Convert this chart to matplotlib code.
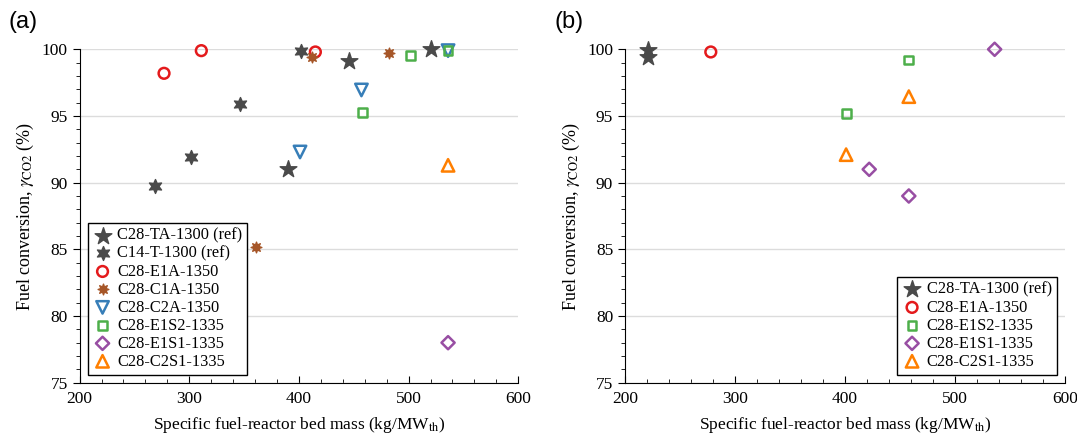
import numpy as np
import matplotlib
matplotlib.use("Agg")
import matplotlib.pyplot as plt

plt.rcParams['font.family'] = ['Liberation Serif', 'DejaVu Serif']
plt.rcParams['mathtext.fontset'] = 'stix'

# ---- panel (a) data ----
a_ta_x = [520, 446, 390]
a_ta_y = [100.0, 99.1, 91.0]
a_c14_x = [402, 346, 302, 269]
a_c14_y = [99.9, 95.9, 91.95, 89.75]
a_e1a_x = [311, 277, 415]
a_e1a_y = [99.9, 98.2, 99.8]
a_c1a_x = [412, 482, 361]
a_c1a_y = [99.4, 99.75, 85.2]
a_c2a_x = [536, 457, 401]
a_c2a_y = [99.9, 96.95, 92.3]
a_e1s2_x = [502, 458, 536]
a_e1s2_y = [99.55, 95.25, 99.9]
a_e1s1_x = [536]
a_e1s1_y = [78.0]
a_c2s1_x = [536]
a_c2s1_y = [91.3]

# ---- panel (b) data ----
b_ta_x = [221, 221]
b_ta_y = [99.95, 99.4]
b_e1a_x = [278]
b_e1a_y = [99.8]
b_e1s2_x = [458, 401]
b_e1s2_y = [99.2, 95.2]
b_e1s1_x = [536, 422, 458]
b_e1s1_y = [100.0, 91.0, 89.0]
b_c2s1_x = [458, 401]
b_c2s1_y = [96.45, 92.1]

GRAY = '#4a4a4a'
RED = '#e41a1c'
BROWN = '#a65628'
BLUE = '#377eb8'
GREEN = '#4daf4a'
PURPLE = '#984ea3'
ORANGE = '#ff7f00'

styles = {
    'C28-TA-1300 (ref)': dict(marker='*', s=160, color=GRAY),
    'C14-T-1300 (ref)': dict(marker=(6, 1, 0), s=100, color=GRAY),
    'C28-E1A-1350': dict(marker='o', s=60, facecolors='none', edgecolors=RED, linewidths=1.8),
    'C28-C1A-1350': dict(marker=(8, 1, 0), s=60, color=BROWN),
    'C28-C2A-1350': dict(marker='v', s=80, facecolors='none', edgecolors=BLUE, linewidths=1.8),
    'C28-E1S2-1335': dict(marker='s', s=40, facecolors='none', edgecolors=GREEN, linewidths=1.8),
    'C28-E1S1-1335': dict(marker='D', s=45, facecolors='none', edgecolors=PURPLE, linewidths=1.8),
    'C28-C2S1-1335': dict(marker='^', s=80, facecolors='none', edgecolors=ORANGE, linewidths=1.8),
}

fig = plt.figure(figsize=(10.77, 4.41), dpi=100)
ax1 = fig.add_axes([0.0739, 0.1322, 0.4073, 0.756])
ax2 = fig.add_axes([0.5803, 0.1322, 0.4086, 0.756])

series_a = [
    ('C28-TA-1300 (ref)', a_ta_x, a_ta_y),
    ('C14-T-1300 (ref)', a_c14_x, a_c14_y),
    ('C28-E1A-1350', a_e1a_x, a_e1a_y),
    ('C28-C1A-1350', a_c1a_x, a_c1a_y),
    ('C28-C2A-1350', a_c2a_x, a_c2a_y),
    ('C28-E1S2-1335', a_e1s2_x, a_e1s2_y),
    ('C28-E1S1-1335', a_e1s1_x, a_e1s1_y),
    ('C28-C2S1-1335', a_c2s1_x, a_c2s1_y),
]
series_b = [
    ('C28-TA-1300 (ref)', b_ta_x, b_ta_y),
    ('C28-E1A-1350', b_e1a_x, b_e1a_y),
    ('C28-E1S2-1335', b_e1s2_x, b_e1s2_y),
    ('C28-E1S1-1335', b_e1s1_x, b_e1s1_y),
    ('C28-C2S1-1335', b_c2s1_x, b_c2s1_y),
]

for ax, series, loc in [(ax1, series_a, 'lower left'), (ax2, series_b, 'lower right')]:
    for name, xs, ys in series:
        ax.scatter(xs, ys, label=name, clip_on=False, zorder=3, **styles[name])
    ax.set_xlim(200, 600)
    ax.set_ylim(75, 100)
    ax.set_xticks([200, 300, 400, 500, 600])
    ax.set_yticks([75, 80, 85, 90, 95, 100])
    ax.set_xticks(np.arange(200, 601, 20), minor=True)
    ax.set_yticks(np.arange(75, 101, 1), minor=True)
    ax.tick_params(axis='x', which='both', direction='in', labelsize=12.5, pad=6)
    ax.tick_params(axis='y', which='both', direction='out', labelsize=12.5)
    ax.tick_params(which='major', length=5)
    ax.tick_params(which='minor', length=3)
    ax.spines['top'].set_visible(False)
    ax.spines['right'].set_visible(False)
    ax.grid(axis='y', color='#dcdcdc', linewidth=1.0, zorder=0)
    ax.set_axisbelow(True)
    ax.set_xlabel('Specific fuel-reactor bed mass (kg/MW$_{\\mathrm{th}}$)', fontsize=12.5, labelpad=6)
    ax.set_ylabel('Fuel conversion, $\\gamma_{\\mathrm{CO2}}$ (%)', fontsize=13)
    leg = ax.legend(loc=loc, fontsize=11.8, frameon=True, fancybox=False, framealpha=1,
                    edgecolor='black', handletextpad=0.3, labelspacing=0.12,
                    borderpad=0.3, handlelength=1.2, borderaxespad=0.5)
    leg.get_frame().set_linewidth(1.0)

fig.text(0.008, 0.975, '(a)', fontsize=17, family='Liberation Sans', va='top')
fig.text(0.515, 0.975, '(b)', fontsize=17, family='Liberation Sans', va='top')

fig.savefig('out.png', dpi=100)
